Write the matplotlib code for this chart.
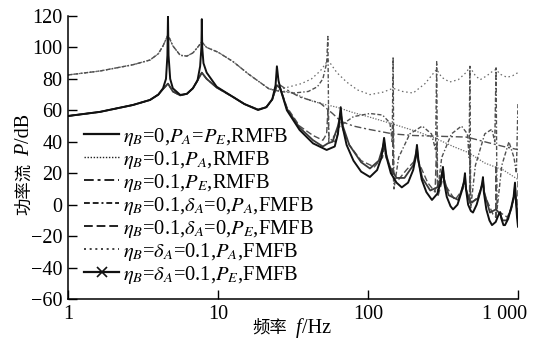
import numpy as np
import matplotlib
matplotlib.use('Agg')
import matplotlib.pyplot as plt
import matplotlib.transforms as mtransforms
from matplotlib.lines import Line2D

plt.rcParams['font.family'] = ['Liberation Serif', 'Noto Sans CJK SC']
plt.rcParams['mathtext.fontset'] = 'stix'
plt.rcParams['axes.unicode_minus'] = True

# ---------------- data ----------------
# undamped curve (eta_B = 0)
solid_f = [1, 1.63, 2.71, 3.52, 4.0, 4.3, 4.5, 4.6, 4.64, 4.68, 4.8, 5.0, 5.6, 6.2, 6.8,
           7.3, 7.6, 7.75, 7.8, 7.85, 8.0, 8.4, 9.8, 12.6, 15, 18.5, 21, 23, 24.2, 24.7,
           25.3, 26, 28.8, 35, 43, 53, 60, 63, 65.8,
           67.5, 72, 80, 90, 103, 115, 123, 128, 133, 142, 155, 168, 185, 200, 208, 212,
           217, 228, 245, 267, 290, 305, 316, 322, 335, 355, 369, 395, 420, 437, 443, 450,
           465, 485, 501, 530, 560, 578, 584, 592, 615, 645, 671, 710, 745, 760, 775, 800,
           819, 860, 900, 935, 955, 965, 985, 1000]
solid_db = [56.4, 59, 63.4, 66.6, 70, 74, 80, 95, 120, 95, 80, 74, 69.8, 70.5, 74,
            79, 88, 100, 118, 100, 90, 84, 75, 68.5, 64, 60.2, 62, 67, 76, 88,
            79, 74, 60, 47.5, 39, 34.8, 37, 45, 62,
            50, 38, 28, 21, 17.6, 22, 30, 42.5, 30, 20, 14, 11, 14, 22, 30, 38,
            28, 16, 8, 3, 7, 14, 24, 14, 5, -1, -3, 0, 8, 15, 20, 10,
            0, -4, -5, 0, 8, 14, 17.5, 8, -3, -10, -13, -11, -6, -4.7, -9, -13,
            -13, -9, -2, 5, 14, 5, -8, -14]

# damped (eta_B = 0.1) low-frequency part, output power P_E
pe_low_f = [1, 1.63, 2.71, 3.52, 4.0, 4.3, 4.64, 5.0, 5.6, 6.2, 6.8, 7.3, 7.8, 8.4,
            9.8, 12.6, 15, 18.5, 21, 23, 24.7]
pe_low_db = [56.4, 59, 63.4, 66.6, 70, 73.5, 77, 72, 69.5, 70.5, 74, 79, 84, 80,
             74.5, 68.5, 64, 60.5, 62, 67, 76]

# damped (eta_B = 0.1) low-frequency part, input power P_A
pa_low_f = [1, 1.63, 2.71, 3.52, 4.0, 4.3, 4.64, 5.0, 5.6, 6.2, 6.8, 7.3, 7.8, 8.4,
            10, 12.6, 16, 22]
pa_low_db = [82.5, 85, 89, 92, 96, 101, 108, 101, 95, 94.5, 96.5, 100, 103.5, 100,
             97, 91, 83, 73.5]

# eta_B=0.1, P_A, RMFB (high-frequency part)
pa_rm_f = [26, 31, 40, 50, 62, 80, 100, 150, 220, 300, 370, 470, 600, 800, 1000]
pa_rm_db = [72.5, 71.5, 66.6, 64, 62, 58.5, 56, 51, 46, 41, 37, 33, 26.5, 22, 16]

# eta_B=0.1, P_E, RMFB (high-frequency part)
pe_rm_f = [26, 30, 35, 48, 58, 66, 80, 100, 147, 200, 300, 450, 500, 600, 800, 1000]
pe_rm_db = [76, 72, 68.5, 64.6, 58, 53, 50, 48, 45, 44, 43.5, 43, 42, 40, 37, 35]

# eta_B=0.1, delta_A=0, P_A, FMFB (high-frequency part)
pa_f0_f = [26, 32, 40, 46, 50, 53, 54, 54.8, 58, 65, 80, 103, 125, 140, 145,
           147, 149, 160, 190, 230, 265, 282, 287, 291, 310, 360, 420, 460, 472, 478,
           484, 520, 600, 670, 700, 714, 725, 780, 870, 940, 975, 1000]
pa_f0_db = [72, 71, 72, 75, 80, 90, 107, 40, 42, 50, 56, 58, 57, 52, 40,
            94, 10, 30, 45, 50, 45, 35, 91, 8, 30, 45, 50, 45, 30, 88,
            -2, 25, 45, 48, 40, 87, -3, 25, 40, 30, 20, 65]

# eta_B=0.1, delta_A=0, P_E, FMFB (high-frequency part)
pe_f0_f = [26, 28.8, 35, 43, 50, 53, 54, 55, 60, 63, 65.8, 68, 75, 90, 110,
           125, 128, 132, 140, 146, 147, 148, 160, 180, 205, 212, 220, 250, 280, 287,
           292, 310, 316, 330, 380, 430, 443, 455, 475, 478, 481, 540, 575, 584, 600,
           680, 712, 714, 716, 760, 850, 920, 955, 975, 998, 1000]
pe_f0_db = [74, 62, 50, 44, 41, 45, 60, 42, 40, 45, 55, 48, 38, 28, 24,
            30, 36, 30, 24, 18, 50, 15, 16, 22, 28, 32, 26, 14, 8, 40,
            5, 14, 20, 12, 3, 10, 16, 8, 2, 35, 0, 5, 12, 15, 6,
            -6, -8, 25, -8, -5, -8, 0, 8, 0, -10, 20]

# eta_B=delta_A=0.1, P_A, FMFB (high-frequency part)
pa_f1_f = [26, 30, 36, 42, 48, 52, 54, 56, 62, 72, 85, 103, 125, 147, 170,
           200, 240, 270, 287, 310, 350, 400, 450, 478, 520, 560, 620, 680, 714, 760,
           845, 920, 1000]
pa_f1_db = [73.5, 75, 77, 80, 85, 89.5, 92, 90, 84, 78, 73, 70, 71.5, 74, 72,
            71, 77, 83, 86, 81, 78, 79.5, 84, 87.5, 82, 79.5, 82, 85, 86, 83,
            81, 82, 84]

# eta_B=delta_A=0.1, P_E, FMFB (high-frequency part)
pe_f1_f = [26, 28.8, 35, 43, 50, 54, 58, 63, 65.8, 68, 75, 90, 103, 118, 126,
           128, 131, 140, 155, 175, 200, 208, 212, 216, 230, 260, 290, 308, 316, 322,
           345, 400, 437, 443, 450, 480, 540, 575, 584, 595, 650, 714, 760, 790, 840,
           900, 940, 955, 968, 1000]
pe_f1_db = [74, 61, 49, 41, 37, 39, 40, 50, 58, 50, 38, 27, 23, 28, 37,
            40, 33, 24, 17, 17, 25, 32, 36, 28, 17, 9, 11, 18, 23, 16,
            6, 3, 14, 18, 10, 1, 4, 12, 16, 8, -5, -3, -6, -10, -10,
            -3, 5, 12, 4, -10]

labels = [r'$\eta_B$=0,$P_A$=$P_E$,RMFB',
          r'$\eta_B$=0.1,$P_A$,RMFB',
          r'$\eta_B$=0.1,$P_E$,RMFB',
          r'$\eta_B$=0.1,$\delta_A$=0,$P_A$,FMFB',
          r'$\eta_B$=0.1,$\delta_A$=0,$P_E$,FMFB',
          r'$\eta_B$=$\delta_A$=0.1,$P_A$,FMFB',
          r'$\eta_B$=$\delta_A$=0.1,$P_E$,FMFB']

x_ticks = [1, 10, 100, 1000]
x_ticklabels = ['1', '10', '100', '1 000']
y_ticks = [-60, -40, -20, 0, 20, 40, 60, 80, 100, 120]

# ---------------- figure ----------------
W, H = 539, 345
fig = plt.figure(figsize=(W / 100, H / 100), dpi=100)
ax = fig.add_axes([68 / W, 1 - 299 / H, 450 / W, 283 / H])
ax.set_xscale('log')

grey = '#505050'
lgrey = '#6a6a6a'

def cat(a, b):
    return np.concatenate([np.asarray(a, float), np.asarray(b, float)])

# draw order: grey curves first, black on top
ax.plot(cat(pa_low_f, pa_rm_f), cat(pa_low_db, pa_rm_db), color=lgrey, lw=0.9,
        ls=(0, (1, 1.2)))
ax.plot(cat(pa_low_f, pa_f1_f), cat(pa_low_db, pa_f1_db), color=lgrey, lw=0.9,
        ls=(0, (1.2, 2.2)))
ax.plot(cat(pa_low_f, pa_f0_f), cat(pa_low_db, pa_f0_db), color=grey, lw=1.0,
        ls=(0, (3, 1.5, 3, 1.5, 1, 1.5)))
ax.plot(cat(pe_low_f, pe_rm_f), cat(pe_low_db, pe_rm_db), color=grey, lw=1.0,
        ls=(0, (5, 2, 1.5, 2)))
ax.plot(cat(pe_low_f, pe_f0_f), cat(pe_low_db, pe_f0_db), color=grey, lw=1.0,
        ls=(0, (4.5, 2)))
ax.plot(cat(pe_low_f, pe_f1_f), cat(pe_low_db, pe_f1_db), color='#3a3a3a', lw=1.3,
        ls='-')
ax.plot(solid_f, solid_db, color='#111111', lw=1.4, ls='-')

ax.set_xlim(1, 1000)
ax.set_ylim(-60, 120)
ax.set_xticks(x_ticks)
ax.set_xticklabels(x_ticklabels)
ax.set_yticks(y_ticks)
ax.minorticks_off()
ax.xaxis.set_minor_locator(matplotlib.ticker.NullLocator())
for s in ['top', 'right']:
    ax.spines[s].set_visible(False)
for s in ['left', 'bottom']:
    ax.spines[s].set_linewidth(1.1)
ax.tick_params(direction='in', length=6.5, width=1.0, labelsize=14.5, pad=4)

# the last x tick label sits a little to the left of its tick, as in the reference
last = ax.get_xticklabels()[-1]
last.set_transform(last.get_transform() +
                   mtransforms.ScaledTranslation(-13 / 100, 0, fig.dpi_scale_trans))

# legend
h1 = Line2D([], [], color='#111111', lw=1.6, ls='-')
h2 = Line2D([], [], color='#222222', lw=1.0, ls=(0, (1, 1.2)))
h3 = Line2D([], [], color='#222222', lw=1.4, ls=(0, (5, 2, 1.5, 2)))
h4 = Line2D([], [], color='#222222', lw=1.4, ls=(0, (3, 1.5, 3, 1.5, 1, 1.5)))
h5 = Line2D([], [], color='#222222', lw=1.4, ls=(0, (4.5, 2)))
h6 = Line2D([], [], color='#222222', lw=1.2, ls=(0, (1.2, 2.2)))
h7 = Line2D([], [], color='#111111', lw=1.6, ls='-', marker='x', markersize=7,
            markeredgewidth=1.2)
ax.legend([h1, h2, h3, h4, h5, h6, h7], labels, loc='upper left',
          bbox_to_anchor=(0.036, 0.613), frameon=False, fontsize=14.8,
          handlelength=1.7, handletextpad=0.2, labelspacing=0.05,
          borderpad=0, borderaxespad=0, numpoints=1)

# ---------------- axis labels (mixed CJK / italic Latin) ----------------
fig.canvas.draw()
r = fig.canvas.get_renderer()

def hlabel(parts, x0, ybase):
    x = x0
    for txt, kw, gap in parts:
        t = fig.text(x / W, 1 - ybase / H, txt, ha='left', va='baseline',
                     rotation_mode='anchor', **kw)
        bb = t.get_window_extent(r)
        x += bb.width + gap

def vlabel(parts, xbase, y0):
    y = y0
    for txt, kw, gap in parts:
        t = fig.text(xbase / W, 1 - y / H, txt, ha='left', va='baseline',
                     rotation=90, rotation_mode='anchor', **kw)
        bb = t.get_window_extent(r)
        y -= bb.height + gap

cjk = dict(family=['Noto Sans CJK SC'], fontsize=12.5)
lat = dict(family=['Liberation Serif'], fontsize=14.5)
ital = dict(family=['Liberation Serif'], fontsize=14.5, style='italic')

hlabel([('频率', cjk, 9), ('f', ital, 1), ('/Hz', lat, 0)], 252, 333)
vlabel([('功率流', cjk, 7), ('P', ital, 1), ('/dB', lat, 0)], 29, 215)

fig.savefig('out.png', dpi=100)
